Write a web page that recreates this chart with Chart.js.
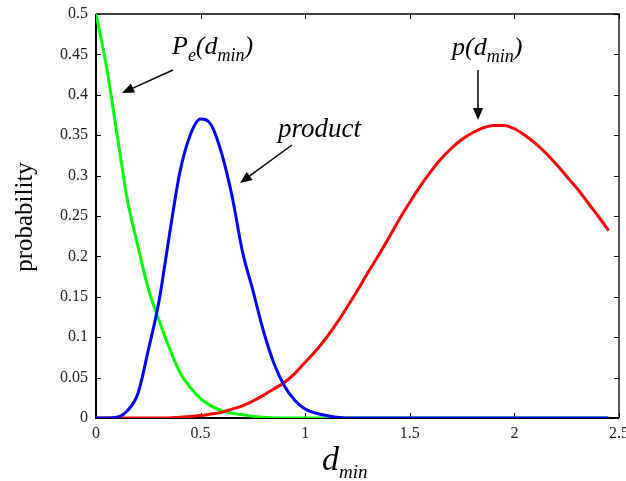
<!DOCTYPE html>
<html>
<head>
<meta charset="utf-8">
<script src="https://cdn.jsdelivr.net/npm/chart.js@4.4.1/dist/chart.umd.min.js"></script>
<style>
  html, body { margin: 0; padding: 0; background: #fff; }
  canvas { display: block; }
</style>
</head>
<body>
<canvas id="probChart" width="626" height="481"></canvas>
<script>
// d_min samples, step 0.05
var dmin = [0, 0.05, 0.1, 0.15, 0.2, 0.25, 0.3, 0.35, 0.4, 0.45,
  0.5, 0.55, 0.6, 0.65, 0.7, 0.75, 0.8, 0.85, 0.9, 0.95,
  1.0, 1.05, 1.1, 1.15, 1.2, 1.25, 1.3, 1.35, 1.4, 1.45,
  1.5, 1.55, 1.6, 1.65, 1.7, 1.75, 1.8, 1.85, 1.9, 1.95,
  2.0, 2.05, 2.1, 2.15, 2.2, 2.25, 2.3, 2.35, 2.4, 2.45];

// P_e(d_min) - green
var peValues = [0.5, 0.435, 0.352, 0.27, 0.213, 0.16, 0.122, 0.087, 0.057, 0.038,
  0.024, 0.015, 0.009, 0.006, 0.004, 0.002, 0.001, 0, 0, 0,
  0, 0, 0, 0, 0, 0, 0, 0, 0, 0,
  0, 0, 0, 0, 0, 0, 0, 0, 0, 0,
  0, 0, 0, 0, 0, 0, 0, 0, 0, 0];

// product - blue
var productValues = [0, 0, 0.001, 0.009, 0.03, 0.084, 0.143, 0.225, 0.303, 0.35,
  0.37, 0.363, 0.328, 0.275, 0.206, 0.158, 0.108, 0.068, 0.04, 0.022,
  0.011, 0.006, 0.003, 0.001, 0, 0, 0, 0, 0, 0,
  0, 0, 0, 0, 0, 0, 0, 0, 0, 0,
  0, 0, 0, 0, 0, 0, 0, 0, 0, 0];

// p(d_min) - red
var pValues = [0, 0, 0, 0, 0, 0, 0, 0, 0.001, 0.002,
  0.003, 0.005, 0.007, 0.011, 0.015, 0.021, 0.028, 0.036, 0.044, 0.055,
  0.069, 0.083, 0.099, 0.117, 0.137, 0.158, 0.18, 0.201, 0.223, 0.246,
  0.267, 0.287, 0.305, 0.321, 0.334, 0.345, 0.353, 0.359, 0.362, 0.362,
  0.358, 0.35, 0.34, 0.328, 0.314, 0.299, 0.284, 0.267, 0.25, 0.232];

var xTicks = [0, 0.5, 1, 1.5, 2, 2.5];
var yTicks = [0, 0.05, 0.1, 0.15, 0.2, 0.25, 0.3, 0.35, 0.4, 0.45, 0.5];

function toPoints(vals) {
  return dmin.map(function(x, i) { return { x: x, y: vals[i] }; });
}

var SERIF = '"Liberation Serif", "Times New Roman", serif';

// draw a run of text pieces, some as subscripts
function drawRich(ctx, x, y, parts) {
  parts.forEach(function(p) {
    ctx.font = 'italic ' + p.size + 'px ' + SERIF;
    ctx.fillText(p.text, x, y + (p.dy || 0));
    x += ctx.measureText(p.text).width + (p.gap || 0);
  });
}

function arrow(ctx, x1, y1, x2, y2) {
  var ang = Math.atan2(y2 - y1, x2 - x1);
  var len = 12, half = 5;
  var bx = x2 - len * Math.cos(ang), by = y2 - len * Math.sin(ang);
  ctx.beginPath();
  ctx.moveTo(x1, y1);
  ctx.lineTo(bx, by);
  ctx.stroke();
  ctx.beginPath();
  ctx.moveTo(x2, y2);
  ctx.lineTo(bx + half * Math.sin(ang), by - half * Math.cos(ang));
  ctx.lineTo(bx - half * Math.sin(ang), by + half * Math.cos(ang));
  ctx.closePath();
  ctx.fill();
}

// box frame with inward ticks
var framePlugin = {
  id: 'frame',
  beforeDatasetsDraw: function(chart) {
    var ctx = chart.ctx, a = chart.chartArea;
    var xs = chart.scales.x, ys = chart.scales.y;
    ctx.save();
    ctx.strokeStyle = '#000';
    ctx.lineWidth = 1.3;
    ctx.beginPath();
    ctx.moveTo(a.left, a.top); ctx.lineTo(a.right, a.top); ctx.lineTo(a.right, a.bottom);
    ctx.stroke();
    ctx.lineWidth = 2;
    ctx.beginPath();
    ctx.moveTo(a.left, a.top); ctx.lineTo(a.left, a.bottom); ctx.lineTo(a.right, a.bottom);
    ctx.stroke();
    ctx.lineWidth = 1;
    ctx.beginPath();
    xs.ticks.forEach(function(t) {
      var px = Math.round(xs.getPixelForValue(t.value)) + 0.5;
      ctx.moveTo(px, a.bottom); ctx.lineTo(px, a.bottom - 5);
      ctx.moveTo(px, a.top); ctx.lineTo(px, a.top + 5);
    });
    ys.ticks.forEach(function(t) {
      var py = Math.round(ys.getPixelForValue(t.value)) + 0.5;
      ctx.moveTo(a.left, py); ctx.lineTo(a.left + 5, py);
      ctx.moveTo(a.right, py); ctx.lineTo(a.right - 5, py);
    });
    ctx.stroke();
    ctx.restore();
  },
  afterDraw: function(chart) {
    var ctx = chart.ctx;
    ctx.save();
    ctx.fillStyle = '#000';
    ctx.strokeStyle = '#000';
    ctx.lineWidth = 1.5;
    ctx.textBaseline = 'alphabetic';
    ctx.textAlign = 'left';

    // annotations
    drawRich(ctx, 172, 54, [
      { text: 'P', size: 26 },
      { text: 'e', size: 18, dy: 7 },
      { text: '(d', size: 26 },
      { text: 'min', size: 18, dy: 7 },
      { text: ')', size: 26 }
    ]);
    drawRich(ctx, 278, 137, [{ text: 'product', size: 27 }]);
    drawRich(ctx, 452, 55, [
      { text: 'p(d', size: 26 },
      { text: 'min', size: 18, dy: 7 },
      { text: ')', size: 26 }
    ]);
    arrow(ctx, 173, 70, 122, 93);
    arrow(ctx, 292, 145, 240, 183);
    arrow(ctx, 478, 70, 478, 120);

    // x title
    drawRich(ctx, 322, 470, [
      { text: 'd', size: 34 },
      { text: 'min', size: 19, dy: 8 }
    ]);

    // y title
    ctx.translate(32, 217);
    ctx.rotate(-Math.PI / 2);
    ctx.textAlign = 'center';
    ctx.font = '25px ' + SERIF;
    ctx.fillText('probability', 0, 0);
    ctx.restore();
  }
};

var ctx = document.getElementById('probChart').getContext('2d');
new Chart(ctx, {
  type: 'line',
  data: {
    datasets: [{
      label: 'product',
      data: toPoints(productValues),
      borderColor: '#0000ff'
    }, {
      label: 'p(dmin)',
      data: toPoints(pValues),
      borderColor: '#ff0000'
    }, {
      label: 'Pe(dmin)',
      data: toPoints(peValues),
      borderColor: '#00ff00'
    }]
  },
  options: {
    responsive: false,
    animation: false,
    devicePixelRatio: 1,
    layout: { padding: { left: 0, right: 7, top: 14, bottom: 0 } },
    elements: {
      point: { radius: 0 },
      line: { borderWidth: 3, cubicInterpolationMode: 'monotone', fill: false }
    },
    plugins: { legend: { display: false }, tooltip: { enabled: false } },
    scales: {
      x: {
        type: 'linear',
        min: 0,
        max: 2.5,
        afterBuildTicks: function(s) { s.ticks = xTicks.map(function(v) { return { value: v }; }); },
        afterFit: function(s) { s.height = 63; s.paddingLeft = 0; s.paddingRight = 0; },
        grid: { display: false, drawTicks: false },
        border: { display: false },
        ticks: {
          padding: 6,
          color: '#222',
          font: { family: SERIF, size: 16 },
          maxRotation: 0,
          callback: function(v) { return String(v); }
        }
      },
      y: {
        min: 0,
        max: 0.5,
        afterBuildTicks: function(s) { s.ticks = yTicks.map(function(v) { return { value: v }; }); },
        afterFit: function(s) { s.width = 96; s.paddingTop = 0; s.paddingBottom = 0; },
        grid: { display: false, drawTicks: false },
        border: { display: false },
        ticks: {
          padding: 8,
          color: '#222',
          font: { family: SERIF, size: 16 },
          callback: function(v) { return String(Number(v.toFixed(2))); }
        }
      }
    }
  },
  plugins: [framePlugin]
});
</script>
</body>
</html>
